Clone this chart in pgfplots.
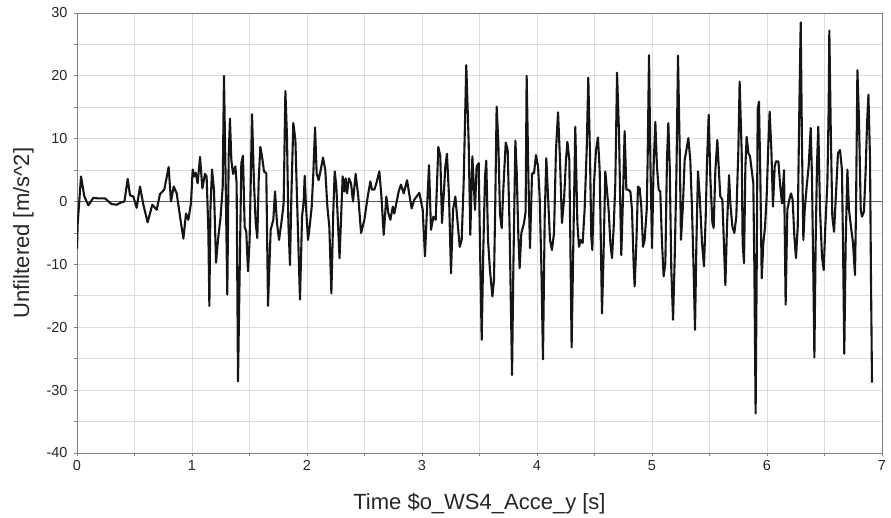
\documentclass[border=0pt]{standalone}
\usepackage{fontspec}
\setmainfont{Liberation Sans}
\usepackage{pgfplots}
\usepackage{pgfplotstable}
\pgfplotsset{compat=1.18}

\definecolor{gridgray}{HTML}{DCDCDC}
\definecolor{framegray}{HTML}{808080}
\definecolor{zerogray}{HTML}{5A5A5A}
\definecolor{trace}{HTML}{151515}

% acceleration signal, unfiltered
\pgfplotstableread{
t a
0.000 -7.5
0.006 -3.5
0.035 4.0
0.064 0.8
0.099 -0.6
0.142 0.6
0.186 0.5
0.243 0.5
0.301 -0.4
0.345 -0.5
0.388 -0.1
0.412 0.0
0.441 3.6
0.461 1.0
0.490 0.8
0.519 -1.0
0.548 2.4
0.577 -0.5
0.614 -3.3
0.655 -0.5
0.693 -1.3
0.722 1.2
0.759 1.9
0.797 5.5
0.817 0.0
0.841 2.4
0.867 1.3
0.896 -2.4
0.925 -5.9
0.948 -1.9
0.968 -2.9
0.991 -0.3
1.006 5.1
1.020 4.0
1.032 4.6
1.049 2.9
1.070 7.1
1.090 2.1
1.113 4.4
1.127 4.0
1.142 -4.5
1.151 -16.6
1.160 -1.3
1.174 5.1
1.191 1.9
1.209 -9.7
1.226 -6.1
1.249 -2.4
1.267 2.4
1.278 20.0
1.293 2.9
1.307 -14.8
1.319 7.2
1.330 13.2
1.342 6.6
1.357 4.4
1.377 5.6
1.388 2.9
1.400 -28.6
1.429 6.1
1.443 7.3
1.458 -4.0
1.472 -4.8
1.487 -11.1
1.501 -6.1
1.522 13.9
1.539 2.9
1.554 -3.4
1.568 -5.8
1.580 3.4
1.594 8.7
1.609 7.2
1.626 4.8
1.646 4.5
1.661 -16.6
1.684 -4.5
1.707 -2.9
1.722 1.6
1.739 -3.4
1.757 -6.1
1.777 -3.4
1.797 -0.3
1.812 17.6
1.826 10.3
1.838 -3.4
1.852 -10.1
1.864 0.8
1.881 12.5
1.899 9.8
1.916 -1.3
1.939 -15.6
1.957 -2.4
1.971 0.0
1.980 4.1
1.991 -0.8
2.009 -6.1
2.023 -4.0
2.041 -0.8
2.055 4.5
2.070 11.8
2.084 4.5
2.101 3.4
2.119 5.0
2.139 7.0
2.159 5.0
2.177 -0.8
2.194 -4.0
2.212 -14.6
2.229 -1.3
2.241 4.8
2.255 2.4
2.283 -9.0
2.310 4.0
2.325 1.6
2.336 3.7
2.348 1.3
2.365 3.7
2.383 2.9
2.400 0.0
2.423 4.4
2.446 0.8
2.470 -5.0
2.499 -2.9
2.528 0.8
2.551 3.2
2.565 1.9
2.586 1.9
2.603 2.9
2.629 4.8
2.647 0.8
2.667 -5.3
2.690 0.8
2.708 -1.9
2.725 -2.9
2.746 -0.8
2.759 -1.9
2.780 0.0
2.797 1.6
2.817 2.7
2.841 1.3
2.870 3.4
2.890 1.1
2.910 -1.1
2.933 0.3
2.977 1.4
3.006 -1.3
3.026 -8.7
3.043 -1.3
3.061 5.8
3.078 -4.5
3.099 -2.4
3.119 -2.9
3.142 8.7
3.159 7.2
3.174 -3.4
3.188 0.8
3.203 5.6
3.217 7.6
3.235 0.8
3.252 -11.4
3.270 -1.3
3.290 0.8
3.310 -3.4
3.328 -7.2
3.345 -6.1
3.362 2.9
3.385 21.7
3.406 9.3
3.420 -5.3
3.438 7.2
3.461 -1.3
3.475 5.6
3.493 6.1
3.504 -6.6
3.519 -22.0
3.533 -7.7
3.548 4.0
3.559 6.5
3.574 -6.1
3.591 -10.9
3.612 -15.1
3.626 -12.5
3.638 0.8
3.649 15.1
3.664 9.3
3.678 -1.9
3.693 -4.2
3.707 1.9
3.728 9.4
3.745 8.2
3.762 -4.5
3.783 -27.6
3.794 -10.9
3.812 9.7
3.823 5.0
3.838 -5.6
3.849 -10.6
3.864 -5.0
3.887 -3.4
3.901 -1.6
3.910 20.0
3.925 4.0
3.939 -7.4
3.957 4.5
3.974 4.5
3.991 7.4
4.009 5.6
4.023 0.8
4.038 -10.3
4.052 -25.1
4.067 -2.4
4.081 6.9
4.096 0.8
4.113 -6.1
4.130 -7.7
4.148 -5.0
4.165 8.2
4.183 14.2
4.200 6.6
4.217 -3.4
4.235 0.3
4.252 6.6
4.264 9.5
4.281 6.6
4.293 -10.9
4.301 -23.2
4.316 -6.6
4.333 11.9
4.351 -3.4
4.365 -7.2
4.380 -6.1
4.397 -6.6
4.414 -1.3
4.432 8.2
4.446 19.7
4.461 7.2
4.472 -5.6
4.481 -7.7
4.496 2.9
4.513 8.2
4.530 10.2
4.545 5.0
4.565 -17.8
4.577 -9.8
4.594 4.8
4.623 -1.3
4.638 -6.6
4.652 -9.0
4.667 -4.0
4.681 2.9
4.696 20.5
4.713 10.9
4.725 -1.3
4.733 -8.5
4.748 0.8
4.762 11.2
4.777 1.9
4.791 1.9
4.812 1.6
4.826 -1.3
4.841 -10.3
4.849 -13.5
4.864 -6.6
4.878 2.4
4.893 2.1
4.907 -0.8
4.922 -7.2
4.936 -6.1
4.954 -1.3
4.962 6.6
4.974 23.3
4.986 6.6
5.000 -7.4
5.014 5.6
5.029 12.7
5.043 5.6
5.058 1.9
5.072 1.6
5.087 -6.6
5.101 -11.9
5.116 -9.8
5.130 6.6
5.142 12.5
5.154 5.6
5.168 -10.9
5.183 -18.8
5.197 -9.3
5.212 4.0
5.226 23.2
5.241 8.2
5.252 -6.1
5.267 -1.3
5.284 6.6
5.299 8.2
5.316 10.1
5.333 6.6
5.348 -1.3
5.362 -10.9
5.374 -20.4
5.386 -6.6
5.400 4.8
5.415 0.8
5.435 -6.6
5.452 -10.3
5.467 -2.4
5.478 6.1
5.493 13.8
5.507 4.0
5.525 -3.4
5.536 -4.2
5.551 5.0
5.568 9.8
5.583 4.5
5.594 0.8
5.612 0.3
5.629 -8.7
5.638 -13.3
5.652 -4.0
5.670 4.2
5.681 -0.3
5.699 -4.0
5.716 -5.0
5.733 -2.4
5.751 8.2
5.762 19.1
5.780 7.7
5.788 -6.6
5.800 -9.8
5.812 5.6
5.823 10.3
5.838 7.7
5.852 7.2
5.867 5.0
5.881 2.9
5.890 -10.3
5.901 -33.7
5.910 -11.9
5.919 14.6
5.930 15.9
5.942 4.0
5.954 -12.2
5.968 -6.6
5.983 -4.0
5.997 0.8
6.012 9.3
6.023 14.3
6.038 8.2
6.052 -0.8
6.067 5.6
6.078 6.4
6.099 6.4
6.113 2.9
6.130 -0.3
6.148 5.0
6.162 -16.4
6.177 -1.3
6.194 0.3
6.209 1.3
6.223 0.3
6.238 -5.6
6.252 -9.0
6.267 -4.0
6.281 14.6
6.293 28.5
6.304 9.3
6.316 -6.1
6.328 -1.3
6.345 2.4
6.362 5.6
6.380 11.7
6.391 4.0
6.403 -11.9
6.412 -24.8
6.423 -6.6
6.435 6.1
6.446 11.9
6.461 -1.3
6.478 -8.7
6.493 -10.9
6.507 -4.0
6.525 2.9
6.536 14.6
6.542 27.2
6.554 11.9
6.568 -2.4
6.583 -4.8
6.600 1.3
6.617 7.7
6.635 8.2
6.652 5.0
6.664 -11.4
6.672 -24.2
6.684 -6.6
6.699 5.1
6.713 -1.3
6.730 -4.0
6.748 -6.6
6.765 -11.7
6.774 -1.3
6.786 20.9
6.800 13.0
6.815 -1.3
6.826 -2.4
6.843 -1.6
6.858 5.0
6.870 12.5
6.882 17.0
6.896 6.6
6.904 -11.9
6.913 -28.8
}\accdata

\begin{document}
\begin{tikzpicture}
\useasboundingbox (-77bp,-65bp) rectangle (814bp,453bp);
\begin{axis}[
  at={(0,0)}, anchor=south west,
  scale only axis, width=805bp, height=440bp,
  xmin=0, xmax=7, ymin=-40, ymax=30,
  xtick={0,1,...,7}, ytick={-40,-30,...,30},
  minor x tick num=1, minor y tick num=1,
  grid=both,
  major grid style={gridgray, line width=0.8bp},
  minor grid style={gridgray, line width=0.8bp},
  axis line style={framegray, line width=0.9bp},
  tick style={framegray, line width=0.8bp},
  tick align=outside, tick pos=left,
  major tick length=3bp, minor tick length=3bp,
  /pgf/number format/assume math mode=true,
  ticklabel style={font=\fontsize{14.5bp}{17bp}\selectfont, text=black!85},
  yticklabel style={xshift=-3bp},
  xticklabel style={yshift=-1bp},
  label style={font=\fontsize{22bp}{26bp}\selectfont, text=black!85},
  xlabel={Time \$o\_WS4\_Acce\_y [s]},
  ylabel={Unfiltered [m/s\^{}2]},
  xlabel style={at={(axis description cs:0.5,-0.1295)}, anchor=base},
  ylabel style={at={(axis description cs:-0.0595,0.5)}, anchor=base},
  extra y ticks={0}, extra y tick labels={},
  extra y tick style={grid=major, major grid style={zerogray, line width=1.1bp}, major tick length=0pt},
]
\addplot[trace, line width=2.1bp, line join=round, mark=none] table[x=t, y=a] {\accdata};
\end{axis}
\end{tikzpicture}
\end{document}
